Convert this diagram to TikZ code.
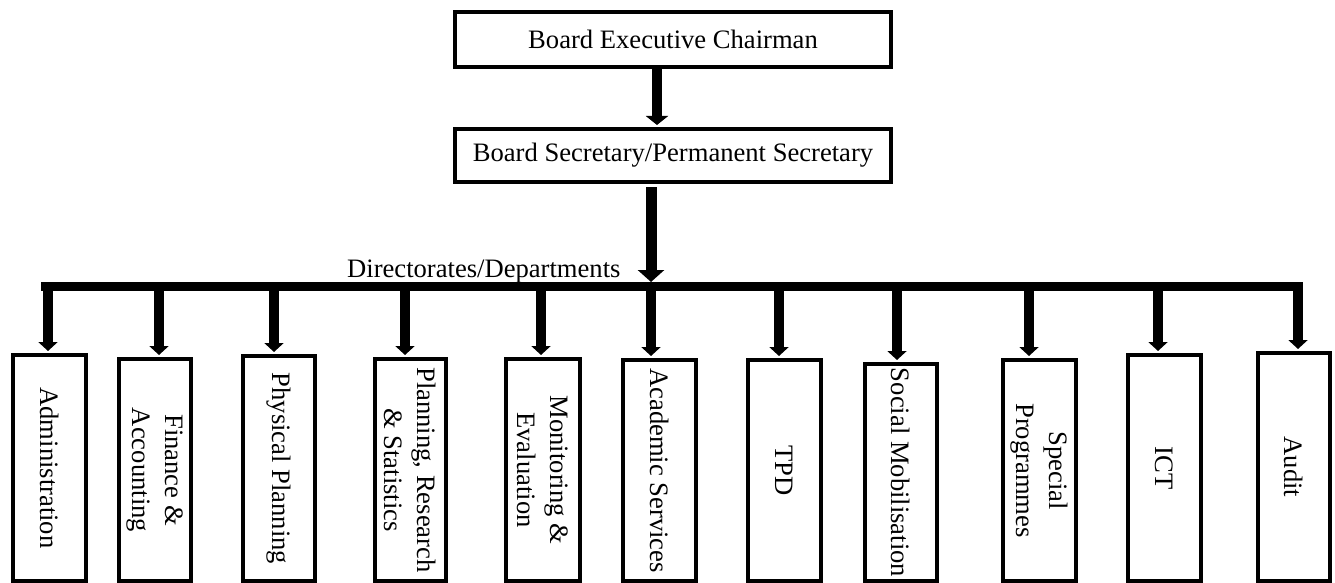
\documentclass[tikz,border=0pt]{standalone}
\usepackage{fontspec}
\setmainfont{Liberation Serif}
\usetikzlibrary{arrows.meta}
\begin{document}
\begin{tikzpicture}[x=1pt,y=-1pt,
  txt/.style={font=\fontsize{26.6}{33}\selectfont},
  box/.style={draw, line width=4pt, inner sep=0pt, txt},
  dept/.style={box, rotate=-90, align=center},
  arrowA/.style={line width=10pt, -{Triangle[length=9pt,width=22pt]}, shorten >=2pt},
  arrowB/.style={line width=11pt, -{Triangle[length=12pt,width=26pt]}, shorten <=3pt},
  drop/.style={line width=10pt, -{Triangle[length=9pt,width=19pt]}, shorten >=2pt},
  bus/.style={line width=9pt}]
\useasboundingbox (0,0) rectangle (1335,583);

% top boxes
\node[box, minimum width=436pt, minimum height=55pt] (chair) at (673,39.5) {Board Executive Chairman};
\node[box, minimum width=436pt, minimum height=53pt] (sec) at (673,155.5) {Board Secretary/Permanent Secretary};

\draw[arrowA] ([xshift=-16pt]chair.south) -- ([xshift=-16pt]sec.north);

% bus
\coordinate (barL) at (41,286.5);
\coordinate (barR) at (1303,286.5);
\coordinate (hub) at (651,282);
\draw[bus] (barL) -- (barR);
\draw[arrowB] (sec.south -| hub) -- (hub);
\node[txt, anchor=base west, inner sep=0pt] (lbl) at (347,277) {Directorates/Departments};

% departments
\node[dept, minimum width=226pt, minimum height=73pt] (d1) at (49.5,468) {Administration};
\node[dept, minimum width=222pt, minimum height=72pt] (d2) at (155,470) {Finance \&\\Accounting};
\node[dept, minimum width=225pt, minimum height=72pt] (d3) at (279,468.5) {Physical Planning};
\node[dept, minimum width=222pt, minimum height=71pt] (d4) at (410.5,470) {Planning, Research\\\& Statistics};
\node[dept, minimum width=222pt, minimum height=74pt] (d5) at (543,470) {Monitoring \&\\Evaluation};
\node[dept, minimum width=221pt, minimum height=73pt] (d6) at (659.5,470.5) {Academic Services};
\node[dept, minimum width=221pt, minimum height=73pt] (d7) at (784.5,470.5) {TPD};
\node[dept, minimum width=217pt, minimum height=72pt] (d8) at (901,472.5) {Social Mobilisation};
\node[dept, minimum width=221pt, minimum height=73pt] (d9) at (1039.5,470.5) {Special\\Programmes};
\node[dept, minimum width=226pt, minimum height=73pt] (d10) at (1164.5,468) {ICT};
\node[dept, minimum width=228pt, minimum height=72pt] (d11) at (1294,467) {Audit};

% drops
\foreach \i/\x in {1/48,2/159,3/274,4/405,5/541,6/651,7/779,8/897,9/1029,10/1158,11/1298}{
  \coordinate (t\i) at (\x,286.5);
  \draw[drop] (t\i) -- (t\i |- d\i.west);
}
\end{tikzpicture}
\end{document}
